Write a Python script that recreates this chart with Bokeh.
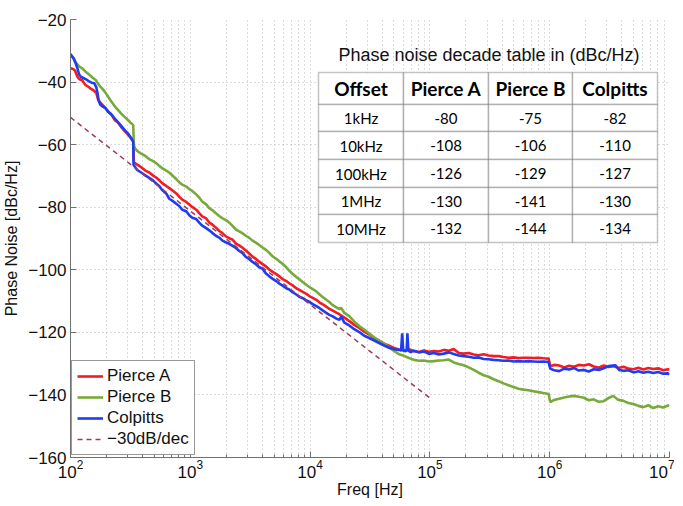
from bokeh.plotting import figure
from bokeh.models import (Range1d, FixedTicker, Legend, LegendItem, Label,
                          BoxAnnotation)
from bokeh.embed import file_html
from bokeh.resources import INLINE

# ---------------- data ----------------
pa_f = [100, 105, 109, 114, 118, 125, 133, 141, 146, 155, 164, 170, 177, 188, 195,
        207, 219, 236, 250, 265, 286, 303, 315, 327, 334, 338, 347, 360, 389, 421,
        454, 490, 519, 550, 582, 629, 667, 706, 763, 808, 856, 925, 980, 1038, 1120,
        1187, 1257, 1358, 1439, 1524, 1645, 1743, 1846, 1995, 2113, 2239, 2417, 2561,
        2713, 2931, 3105, 3289, 3551, 3762, 3985, 4305, 4560, 4831, 5218, 5528, 5856,
        6326, 6701, 7099, 7669, 8124, 8606, 9297, 9849, 10433, 11271, 11940, 12648,
        13663, 14474, 15333, 16564, 17547, 19308, 21246, 23378, 25724, 28305, 31145,
        34270, 37709, 41492, 45656, 50237, 55277, 60823, 66926, 73642, 81031, 89161,
        98107, 107951, 118783, 130702, 143816, 158246, 174124, 191595, 210818,
        231971, 255246, 280857, 309037, 340044, 374163, 411705, 453014, 498468,
        548482, 603514, 664068, 730698, 804012, 884683, 980000, 1010000, 1090000,
        1200000, 1320000, 1450000, 1600000, 1750000, 1930000, 2120000, 2330000,
        2570000, 2820000, 3100000, 3410000, 3750000, 4130000, 4540000, 5000000,
        5500000, 6050000, 6650000, 7320000, 8050000, 8850000, 9740000, 10000000]
pa_db = [-35.6, -35.8, -36.3, -38.2, -39.0, -39.4, -40.9, -41.5, -42.0, -42.6, -43.4,
         -45.6, -46.5, -47.6, -48.3, -49.6, -50.4, -52.3, -53.0, -54.4, -55.8, -56.9,
         -57.6, -58.4, -58.9, -65.6, -66.0, -66.4, -67.2, -68.3, -68.9, -69.9, -70.5,
         -71.4, -72.3, -73.2, -73.9, -74.6, -75.6, -76.6, -77.6, -78.3, -79.1, -79.9,
         -80.8, -81.9, -82.9, -83.6, -84.9, -85.5, -86.6, -87.6, -88.2, -89.4, -89.9,
         -90.3, -91.7, -92.2, -92.9, -93.9, -94.8, -95.7, -96.6, -97.4, -98.1, -99.0,
         -99.9, -100.6, -101.4, -102.1, -102.9, -103.6, -104.3, -104.9, -105.9,
         -106.4, -107.0, -107.7, -108.4, -108.9, -109.6, -110.4, -111.0, -111.8,
         -112.5, -113.0, -113.7, -114.2, -115.3, -116.4, -117.6, -118.6, -119.8,
         -120.7, -121.9, -122.6, -123.6, -124.3, -125.0, -125.5, -125.9, -125.4,
         -126.0, -126.3, -125.8, -126.2, -126.0, -126.1, -125.6, -125.9, -125.3,
         -126.6, -126.8, -126.6, -127.1, -127.3, -127.0, -127.4, -127.6, -127.6,
         -127.9, -128.1, -128.0, -128.2, -128.1, -128.1, -128.2, -128.1, -128.3,
         -128.4, -130.8, -130.4, -130.6, -131.2, -130.7, -131.0, -130.4, -130.6,
         -130.2, -130.9, -131.3, -130.6, -131.1, -130.8, -131.4, -131.0, -131.6,
         -131.8, -131.3, -131.9, -131.4, -131.7, -131.5, -132.1, -131.8, -132.0]

pb_f = [100, 105, 109, 114, 118, 125, 133, 141, 146, 155, 164, 170, 177, 188, 195,
        207, 219, 236, 250, 265, 286, 303, 315, 327, 334, 338, 347, 360, 389, 421,
        454, 490, 519, 550, 582, 629, 667, 706, 763, 808, 856, 925, 980, 1038, 1120,
        1187, 1257, 1358, 1439, 1524, 1645, 1743, 1846, 1995, 2113, 2239, 2417, 2561,
        2713, 2931, 3105, 3289, 3551, 3762, 3985, 4305, 4560, 4831, 5218, 5528, 5856,
        6326, 6701, 7099, 7669, 8124, 8606, 9297, 9849, 10433, 11271, 11940, 12648,
        13663, 14474, 15333, 16564, 17547, 18200, 19308, 21246, 23378, 25724, 28305,
        31145, 34270, 37709, 41492, 45656, 50237, 55277, 60823, 66926, 73642, 81031,
        89161, 98107, 107951, 118783, 130702, 143816, 158246, 174124, 191595,
        210818, 231971, 255246, 280857, 309037, 340044, 374163, 411705, 453014,
        498468, 548482, 603514, 664068, 730698, 804012, 884683, 980000, 1010000,
        1090000, 1200000, 1320000, 1450000, 1600000, 1750000, 1930000, 2120000,
        2330000, 2570000, 2820000, 3100000, 3400000, 3700000, 4130000, 4540000,
        5000000, 5500000, 6050000, 6650000, 7320000, 8050000, 8850000, 9740000,
        10000000]
pb_db = [-31.3, -32.2, -33.4, -34.3, -35.0, -35.6, -36.6, -37.4, -37.9, -38.8, -39.5,
         -40.6, -41.4, -42.5, -43.3, -44.8, -46.2, -47.9, -49.0, -50.1, -51.3, -52.2,
         -52.9, -53.4, -53.8, -60.3, -61.3, -62.0, -62.9, -63.6, -64.6, -65.3, -65.9,
         -66.8, -67.5, -68.3, -68.9, -69.8, -71.0, -72.0, -72.8, -73.4, -74.2, -74.8,
         -75.9, -76.9, -78.2, -79.1, -80.3, -80.9, -82.0, -82.8, -83.5, -84.2, -84.9,
         -85.9, -87.2, -87.7, -88.3, -89.2, -89.8, -90.6, -91.4, -92.1, -92.8, -93.7,
         -94.6, -95.6, -96.5, -97.3, -98.0, -99.2, -100.3, -101.2, -102.3, -103.0,
         -103.8, -104.8, -105.5, -106.1, -106.9, -107.8, -108.6, -109.6, -110.3,
         -111.2, -112.0, -112.6, -112.2, -113.8, -114.8, -116.6, -118.0, -119.1,
         -120.4, -121.6, -122.7, -123.7, -124.8, -125.9, -127.0, -127.5, -128.2,
         -128.8, -129.1, -129.0, -129.3, -129.2, -129.0, -128.9, -128.7, -129.6,
         -130.1, -130.5, -131.2, -132.0, -132.9, -133.7, -134.2, -135.0, -135.6,
         -136.3, -136.9, -137.5, -138.0, -138.3, -138.5, -138.8, -139.1, -139.4,
         -139.7, -142.3, -141.6, -141.2, -140.8, -140.5, -140.3, -140.6, -140.9,
         -141.7, -141.4, -142.2, -142.0, -141.0, -140.3, -141.5, -141.9, -142.6,
         -142.9, -143.5, -143.9, -143.3, -144.2, -143.6, -144.0, -143.4, -143.5]

co_f = [100, 103, 107, 110, 114, 118, 122, 128, 136, 143, 150, 158, 164, 168, 172,
        177, 185, 195, 207, 219, 236, 250, 265, 286, 303, 315, 327, 334, 336, 347,
        360, 389, 421, 454, 490, 519, 550, 582, 629, 667, 706, 763, 808, 856, 925,
        980, 1038, 1120, 1187, 1257, 1358, 1439, 1524, 1645, 1743, 1846, 1995, 2113,
        2239, 2417, 2561, 2713, 2931, 3105, 3289, 3551, 3762, 3985, 4305, 4560, 4831,
        5218, 5528, 5856, 6326, 6701, 7099, 7669, 8124, 8606, 9297, 9849, 10433,
        11271, 11940, 12648, 13663, 14474, 15333, 16564, 17547, 18200, 19308, 21246,
        23378, 25724, 28305, 31145, 34270, 37709, 41492, 45656, 50237, 55277, 57500,
        58700, 59900, 62000, 64000, 64900, 66000, 69000, 73642, 81031, 89161, 98107,
        107951, 118783, 130702, 143816, 158246, 174124, 191595, 210818, 231971,
        255246, 280857, 309037, 340044, 374163, 411705, 453014, 498468, 548482,
        603514, 664068, 730698, 804012, 884683, 980000, 1010000, 1090000, 1200000,
        1320000, 1450000, 1600000, 1750000, 1930000, 2120000, 2330000, 2570000,
        2820000, 3100000, 3540000, 3800000, 4130000, 4540000, 5000000, 5500000,
        6050000, 6650000, 7320000, 8050000, 8850000, 9740000, 10000000]
co_db = [-31.0, -31.8, -32.6, -33.8, -35.5, -37.6, -38.3, -38.7, -39.2, -39.8, -40.2,
         -40.4, -41.6, -43.5, -46.0, -47.2, -47.8, -48.2, -49.5, -50.3, -51.8, -52.9,
         -54.0, -55.5, -56.5, -57.5, -58.4, -59.2, -66.5, -67.2, -68.1, -68.9, -69.8,
         -70.6, -71.5, -72.4, -73.2, -74.5, -75.6, -77.3, -77.9, -78.9, -79.6, -80.8,
         -81.3, -82.6, -83.4, -83.8, -84.9, -85.9, -86.7, -87.4, -88.2, -89.2, -89.7,
         -90.6, -91.3, -91.7, -92.3, -93.1, -94.0, -94.6, -96.0, -96.6, -97.4, -98.3,
         -99.2, -99.6, -101.3, -102.1, -102.8, -103.6, -104.4, -105.0, -105.9, -106.3,
         -107.1, -107.9, -108.6, -109.0, -109.8, -110.2, -110.9, -111.6, -112.2,
         -112.9, -113.8, -114.4, -114.8, -115.6, -116.0, -115.0, -116.9, -117.8,
         -119.0, -119.9, -121.1, -121.8, -122.6, -123.4, -124.2, -124.9, -125.4,
         -125.6, -125.8, -120.3, -125.7, -126.0, -125.9, -120.3, -125.8, -126.3,
         -125.9, -126.4, -126.1, -126.9, -126.6, -127.1, -126.8, -126.4, -126.9,
         -127.4, -127.6, -127.8, -128.1, -128.0, -128.5, -128.6, -128.8, -128.9,
         -129.1, -129.0, -129.3, -129.2, -129.3, -129.2, -129.3, -129.4, -129.3,
         -129.5, -131.6, -132.1, -132.4, -131.6, -131.9, -131.4, -132.2, -132.0,
         -132.5, -131.8, -132.0, -131.5, -130.8, -130.5, -132.0, -132.3, -132.1,
         -132.8, -132.4, -132.9, -132.6, -133.0, -132.7, -133.2, -133.1, -133.5]

ref_f = [100, 100000]
ref_db = [-51.3, -141.0]

x_ticks = [1e2, 1e3, 1e4, 1e5, 1e6, 1e7]
y_ticks = [-160, -140, -120, -100, -80, -60, -40, -20]

tab_offsets = ["1kHz", "10kHz", "100kHz", "1MHz", "10MHz"]
tab_pierce_a = [-80, -108, -126, -130, -132]
tab_pierce_b = [-75, -106, -129, -141, -144]
tab_colpitts = [-82, -110, -127, -130, -134]
tab_header = ["Offset", "Pierce A", "Pierce B", "Colpitts"]

# ---------------- figure ----------------
FW, FH = 599, 438
p = figure(frame_width=FW, frame_height=FH, x_axis_type="log",
           x_range=Range1d(1e2, 1e7), y_range=Range1d(-160, -20),
           output_backend="svg", toolbar_location=None,
           min_border_left=63, min_border_right=5, min_border_top=19,
           min_border_bottom=0)
p.outline_line_color = None
p.background_fill_color = "white"
p.border_fill_color = "white"

minor = [m * 10 ** e for e in range(2, 7) for m in range(2, 10)]
xt = FixedTicker(ticks=x_ticks, minor_ticks=minor)
p.xaxis.ticker = xt
p.xgrid.ticker = xt
yt = FixedTicker(ticks=y_ticks)
p.yaxis.ticker = yt
p.ygrid.ticker = yt
p.yaxis.major_label_overrides = {t: "\u2212%d" % (-t) for t in y_ticks}

for ax in (p.xaxis, p.yaxis):
    ax.axis_line_color = "#707070"
    ax.axis_line_width = 1
    ax.major_tick_line_color = "#707070"
    ax.major_tick_in = 6
    ax.major_tick_out = 0
    ax.major_label_text_font = "Liberation Sans"
    ax.major_label_text_font_size = "17px"
    ax.major_label_text_color = "#111111"
    ax.axis_label_text_font = "Liberation Sans"
    ax.axis_label_text_font_size = "16px"
    ax.axis_label_text_font_style = "normal"
    ax.axis_label_text_color = "#111111"
p.xaxis.minor_tick_line_color = "#707070"
p.xaxis.minor_tick_in = 3
p.xaxis.minor_tick_out = 0
p.yaxis.minor_tick_line_color = None
p.xaxis.major_label_standoff = 2
p.yaxis.major_label_standoff = 4
p.xaxis.axis_label = "Freq [Hz]"
p.yaxis.axis_label = "Phase Noise [dBc/Hz]"
p.xaxis.axis_label_standoff = 0
p.yaxis.axis_label_standoff = 5

for g in (p.xgrid, p.ygrid):
    g.grid_line_color = "#b8b8b8"
    g.grid_line_dash = "1 3"
    g.grid_line_width = 1
p.xgrid.minor_grid_line_color = "#b8b8b8"
p.xgrid.minor_grid_line_dash = "1 3"

r_a = p.line(pa_f, pa_db, line_color="#f21c22", line_width=2.6)
r_b = p.line(pb_f, pb_db, line_color="#77aa3a", line_width=2.6)
r_c = p.line(co_f, co_db, line_color="#1e3cf2", line_width=2.6)
r_r = p.line(ref_f, ref_db, line_color="#a23a55", line_width=1.5, line_dash="5 4")

legend = Legend(items=[LegendItem(label="Pierce A", renderers=[r_a]),
                       LegendItem(label="Pierce B", renderers=[r_b]),
                       LegendItem(label="Colpitts", renderers=[r_c]),
                       LegendItem(label="\u221230dB/dec", renderers=[r_r])],
                location=(1, 2), margin=0, padding=5, spacing=1,
                glyph_width=26, glyph_height=20, label_height=20,
                label_standoff=4, label_text_font="Liberation Sans",
                label_text_font_size="17px", label_text_color="#111111",
                border_line_color="#333333", border_line_width=1,
                background_fill_color="white", background_fill_alpha=1)
p.add_layout(legend)

# ---------------- table (screen units relative to the frame) ----------------
col_edges = [248, 333, 418, 502, 587]
row_edges = [53, 85, 112, 140, 168, 195, 223]

p.add_layout(Label(x=(col_edges[0] + col_edges[-1]) / 2 + 1, y=FH - 35,
                   x_units="screen", y_units="screen",
                   text="Phase noise decade table in (dBc/Hz)",
                   text_align="center", text_baseline="middle",
                   text_font="Liberation Sans", text_font_size="18px",
                   text_color="#111111"))

for r in range(len(row_edges) - 1):
    for c in range(len(col_edges) - 1):
        p.add_layout(BoxAnnotation(left=col_edges[c], right=col_edges[c + 1],
                                   top=FH - row_edges[r], bottom=FH - row_edges[r + 1],
                                   left_units="screen", right_units="screen",
                                   top_units="screen", bottom_units="screen",
                                   fill_color="white", fill_alpha=1,
                                   line_color="#3c3c3c", line_width=1.5))

rows = [tab_header] + [[o, str(a), str(b), str(c)] for o, a, b, c in
                       zip(tab_offsets, tab_pierce_a, tab_pierce_b, tab_colpitts)]
for r, row in enumerate(rows):
    yc = FH - (row_edges[r] + row_edges[r + 1]) / 2
    for c, txt in enumerate(row):
        xc = (col_edges[c] + col_edges[c + 1]) / 2
        p.add_layout(Label(x=xc, y=yc, x_units="screen", y_units="screen",
                           text=txt, text_align="center", text_baseline="middle",
                           text_font="Lato",
                           text_font_size="19px" if r == 0 else "15px",
                           text_font_style="bold" if r == 0 else "normal",
                           text_color="#000000"))

open("out.html", "w").write(file_html(p, INLINE))
